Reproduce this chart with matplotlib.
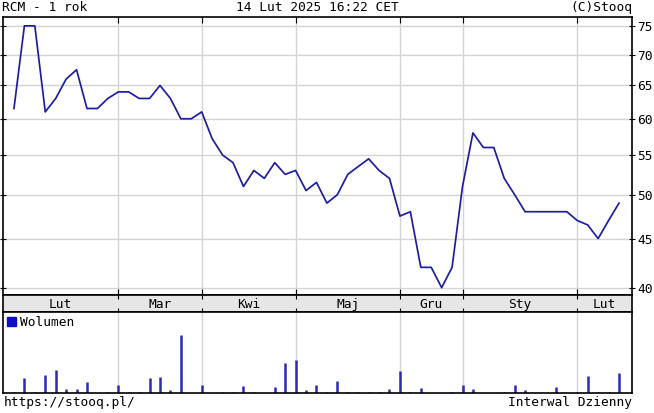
import numpy as np
import matplotlib
matplotlib.use('Agg')
import matplotlib.pyplot as plt
from matplotlib.patches import Patch

plt.rcParams['font.family'] = ['DejaVu Sans Mono']
plt.rcParams['font.size'] = 9.3

# tygodniowe notowania RCM
close = [61.5, 75, 75, 61, 63, 66, 67.5, 61.5, 61.5, 63,
         64, 64, 63, 63, 65, 63, 60, 60, 61, 57.2,
         55, 54, 51, 53, 52, 54, 52.5, 53, 50.5, 51.5,
         49, 50, 52.5, 53.5, 54.5, 53, 52, 47.5, 48, 42,
         42, 40, 42, 51, 58, 56, 56, 52, 50, 48,
         48, 48, 48, 48, 47, 46.5, 45, 47, 49]
volume = [1.5, 15, 1.5, 18, 23, 4, 4, 11, 0, 1.5,
          8, 1.5, 1.5, 15, 16, 3, 58, 0, 8, 0,
          1.5, 1.5, 7, 1.5, 0, 6, 30, 33, 3, 8,
          1.5, 12, 1.5, 1.5, 1.5, 1.5, 4, 22, 1.5, 5,
          0, 0, 1.5, 8, 4, 0, 0, 1.5, 8, 3,
          0, 0, 6, 0, 1.5, 17, 1.5, 1.5, 20]
month_starts = [10, 18, 27, 37, 43, 54]
month_labels = ['Lut', 'Mar', 'Kwi', 'Maj', 'Gru', 'Sty', 'Lut']
price_ticks = [40, 45, 50, 55, 60, 65, 70, 75]

x = np.arange(len(close))
xmin, xmax = -1.05, 59.25
line_col = '#1e1ea0'
bar_col = '#2a2ab4'
grid_col = '#d4d4d4'

fig = plt.figure(figsize=(6.54, 4.13), dpi=100)
ax = fig.add_axes([0.0046, 0.2857, 0.9618, 0.673])
band = fig.add_axes([0.0046, 0.2446, 0.9618, 0.0411])
axv = fig.add_axes([0.0046, 0.0484, 0.9618, 0.1962])

# cena
ax.plot(x, close, color=line_col, lw=1.25)
ax.set_yscale('log')
ax.set_ylim(39.3, 76.6)
ax.set_xlim(xmin, xmax)
ax.set_yticks(price_ticks)
ax.set_yticklabels([str(t) for t in price_ticks])
ax.minorticks_off()
ax.yaxis.tick_right()
ax.tick_params(axis='y', which='both', direction='inout', length=5, pad=1, left=True, right=True)
ax.set_xticks(month_starts)
ax.set_xticklabels([])
ax.tick_params(axis='x', direction='in', length=4, top=True, bottom=True)
for t in price_ticks:
    ax.axhline(t, color=grid_col, lw=1, zorder=0)
for m in month_starts:
    ax.axvline(m, color=grid_col, lw=1, zorder=0)

# pasek z miesiacami
band.set_facecolor('#e6e6e6')
band.set_xlim(xmin, xmax)
band.set_ylim(0, 1)
band.set_yticks([])
band.set_xticks(month_starts)
band.set_xticklabels([])
band.tick_params(axis='x', direction='inout', length=6, top=True, bottom=True)
edges = [xmin] + month_starts + [xmax]
for i, lab in enumerate(month_labels):
    band.text((edges[i] + edges[i + 1]) / 2, 0.45, lab, ha='center', va='center')

# wolumen
axv.vlines(x, 0, volume, color=bar_col, lw=1.8)
axv.set_xlim(xmin, xmax)
axv.set_ylim(0, 81)
axv.set_yticks([])
axv.set_xticks([])
for m in month_starts:
    axv.axvline(m, color=grid_col, lw=1, zorder=0)
axv.legend(handles=[Patch(facecolor='#1010c0', edgecolor='#1010c0', label='Wolumen')],
           loc='upper left', frameon=False, handlelength=0.7, handleheight=0.7,
           handletextpad=0.3, borderaxespad=0.1, borderpad=0.2)

for a in (ax, band, axv):
    for s in a.spines.values():
        s.set_linewidth(1.2)

fig.text(0.003, 0.983, 'RCM - 1 rok', ha='left', va='center')
fig.text(0.485, 0.983, '14 Lut 2025 16:22 CET', ha='center', va='center')
fig.text(0.967, 0.983, '(C)Stooq', ha='right', va='center')
fig.text(0.006, 0.025, 'https://stooq.pl/', ha='left', va='center')
fig.text(0.967, 0.025, 'Interwal Dzienny', ha='right', va='center')

fig.savefig('out.png', dpi=100)
